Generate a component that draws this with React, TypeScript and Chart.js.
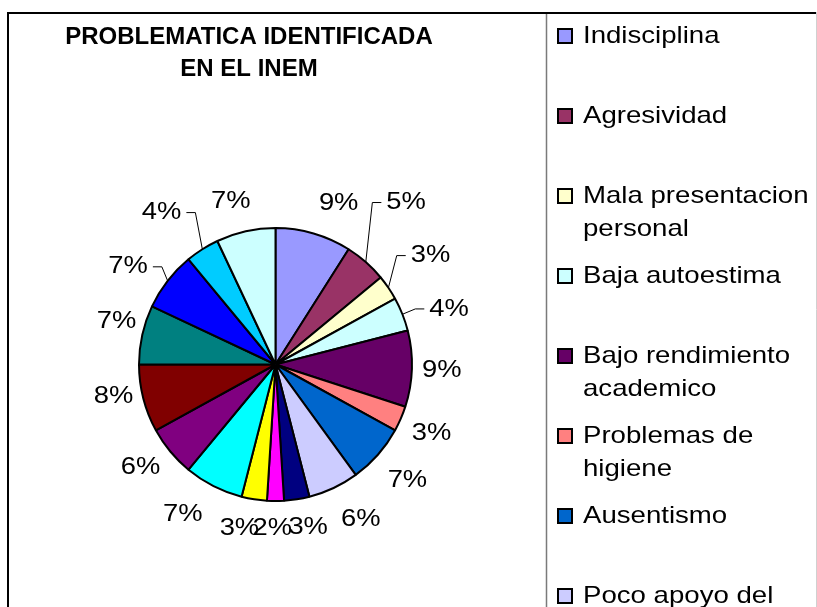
import React, { useEffect, useRef } from "react";
import { Chart, registerables } from "chart.js";

Chart.register(...registerables);

// ---- data ----
const categories = [
  "Indisciplina",
  "Agresividad",
  "Mala presentacion personal",
  "Baja autoestima",
  "Bajo rendimiento academico",
  "Problemas de higiene",
  "Ausentismo",
  "Poco apoyo del hogar",
  "Consumo de drogas",
  "Embarazo precoz",
  "Alcoholismo",
  "Desercion escolar",
  "Irrespeto",
  "Violencia intrafamiliar",
  "Bajos recursos economicos",
  "Falta de motivacion",
  "Problemas familiares",
  "Otros",
];

const percentages = [9, 5, 3, 4, 9, 3, 7, 6, 3, 2, 3, 7, 6, 8, 7, 7, 4, 7];

const sliceColors = [
  "#9999FF",
  "#993366",
  "#FFFFCC",
  "#CCFFFF",
  "#660066",
  "#FF8080",
  "#0066CC",
  "#CCCCFF",
  "#000080",
  "#FF00FF",
  "#FFFF00",
  "#00FFFF",
  "#800080",
  "#800000",
  "#008080",
  "#0000FF",
  "#00CCFF",
  "#CCFFFF",
];

const titleLines = ["PROBLEMATICA IDENTIFICADA", "EN EL INEM"];

// label layout tweaks relative to each slice's mid-angle: [angle shift (deg), extra radial distance (px)]
const labelNudge: [number, number][] = [
  [3, 6], [-4, 36], [0, 17], [5, 14], [0, 0], [-1, 1], [0, 3], [-1, 7], [-1, 2],
  [1, 0], [2, 3], [2, 5], [3, -3], [4, -2], [1.5, -3], [-5.5, 4.5], [-2.5, 18], [-1, 4],
];
const labelLeader = [
  false, true, true, true, false, false, false, false, false,
  false, false, false, false, false, false, true, true, false,
];

// ---- styling ----
const FONT = '"Liberation Sans", Arial, Helvetica, sans-serif';
const W = 817;
const H = 607;
const LABEL_SX = 1.14;
const LEGEND_SX = 1.15;

function drawStretched(
  ctx: CanvasRenderingContext2D,
  text: string,
  x: number,
  y: number,
  sx: number,
  align: CanvasTextAlign
) {
  ctx.save();
  ctx.translate(x, y);
  ctx.scale(sx, 1);
  ctx.textAlign = align;
  ctx.textBaseline = "middle";
  ctx.fillText(text, 0, 0);
  ctx.restore();
}

const framePlugin = {
  id: "frame",
  beforeDraw(chart: any) {
    const ctx: CanvasRenderingContext2D = chart.ctx;
    ctx.save();
    ctx.fillStyle = "#ffffff";
    ctx.fillRect(0, 0, chart.width, chart.height);
    ctx.restore();
  },
  afterDraw(chart: any) {
    const ctx: CanvasRenderingContext2D = chart.ctx;
    ctx.save();
    // light right edge
    ctx.strokeStyle = "#d0d0d0";
    ctx.lineWidth = 1;
    ctx.beginPath();
    ctx.moveTo(816.5, 12);
    ctx.lineTo(816.5, H);
    ctx.stroke();
    // legend divider
    ctx.strokeStyle = "#7a7a7a";
    ctx.lineWidth = 1.5;
    ctx.beginPath();
    ctx.moveTo(546.5, 13);
    ctx.lineTo(546.5, H);
    ctx.stroke();
    // outer frame (top + left)
    ctx.strokeStyle = "#000000";
    ctx.lineWidth = 2;
    ctx.beginPath();
    ctx.moveTo(8, H);
    ctx.lineTo(8, 13);
    ctx.lineTo(816, 13);
    ctx.stroke();
    ctx.restore();
  },
};

const titlePlugin = {
  id: "customTitle",
  afterDraw(chart: any) {
    const ctx: CanvasRenderingContext2D = chart.ctx;
    ctx.save();
    ctx.fillStyle = "#000000";
    ctx.font = `bold 24px ${FONT}`;
    ctx.textAlign = "center";
    ctx.textBaseline = "middle";
    titleLines.forEach((line, i) => {
      ctx.fillText(line, 249, 37 + i * 32);
    });
    ctx.restore();
  },
};

const legendPlugin = {
  id: "customLegend",
  afterDraw(chart: any) {
    const ctx: CanvasRenderingContext2D = chart.ctx;
    const labels: string[] = chart.data.labels;
    const colors: string[] = chart.data.datasets[0].backgroundColor;
    ctx.save();
    ctx.font = `24px ${FONT}`;
    const maxW = 234;
    labels.forEach((label, i) => {
      const y0 = 36 + i * 80;
      // wrap
      const words = label.split(" ");
      const lines: string[] = [];
      let cur = "";
      words.forEach((w) => {
        const test = cur ? cur + " " + w : w;
        if (ctx.measureText(test).width * LEGEND_SX > maxW && cur) {
          lines.push(cur);
          cur = w;
        } else {
          cur = test;
        }
      });
      if (cur) lines.push(cur);
      // swatch
      ctx.fillStyle = colors[i];
      ctx.fillRect(558, y0 - 7, 14, 14);
      ctx.strokeStyle = "#000000";
      ctx.lineWidth = 2;
      ctx.strokeRect(558, y0 - 7, 14, 14);
      ctx.fillStyle = "#000000";
      lines.forEach((ln, j) => {
        drawStretched(ctx, ln, 583, y0 + j * 33, LEGEND_SX, "left");
      });
    });
    ctx.restore();
  },
};

const labelPlugin = {
  id: "pctLabels",
  afterDatasetsDraw(chart: any) {
    const ctx: CanvasRenderingContext2D = chart.ctx;
    const meta = chart.getDatasetMeta(0);
    const values: number[] = chart.data.datasets[0].data;
    const total = values.reduce((a, b) => a + b, 0);
    const clamp = (v: number) => Math.max(-1, Math.min(1, v * 2));
    ctx.save();
    ctx.font = `24px ${FONT}`;
    ctx.fillStyle = "#000000";
    ctx.strokeStyle = "#000000";
    ctx.lineWidth = 1;
    meta.data.forEach((arc: any, i: number) => {
      const p = arc.getProps(["x", "y", "startAngle", "endAngle", "outerRadius"], true);
      const mid = (p.startAngle + p.endAngle) / 2;
      const [shiftDeg, extra] = labelNudge[i] || [0, 0];
      const a = mid + (shiftDeg * Math.PI) / 180;
      const ux = Math.cos(a);
      const uy = Math.sin(a);
      const R = p.outerRadius + 1;
      const text = Math.round((values[i] / total) * 100) + "%";
      const hw = (ctx.measureText(text).width * LABEL_SX) / 2;
      const hh = 17;
      const d = R + 9 + extra;
      const cx = p.x + d * ux + hw * clamp(ux);
      const cy = p.y + d * uy + hh * clamp(uy);
      drawStretched(ctx, text, cx, cy, LABEL_SX, "center");
      if (labelLeader[i]) {
        const side = cx >= p.x ? 1 : -1;
        const edge = cx - side * hw;
        const x0 = edge - side * 5;
        const x1 = edge - side * 14;
        const ax = p.x + (R - 1) * Math.cos(mid);
        const ay = p.y + (R - 1) * Math.sin(mid);
        ctx.beginPath();
        ctx.moveTo(x0, cy);
        ctx.lineTo(x1, cy);
        ctx.lineTo(ax, ay);
        ctx.stroke();
      }
    });
    ctx.restore();
  },
};

export default function App() {
  const canvasRef = useRef<HTMLCanvasElement | null>(null);

  useEffect(() => {
    if (!canvasRef.current) return;
    const chart = new Chart(canvasRef.current, {
      type: "pie",
      data: {
        labels: categories,
        datasets: [
          {
            data: percentages,
            backgroundColor: sliceColors,
            borderColor: "#000000",
            borderWidth: 2,
          },
        ],
      },
      options: {
        responsive: false,
        animation: false,
        devicePixelRatio: 1,
        layout: {
          padding: { left: 138, right: 404, top: 227, bottom: 105 },
        },
        plugins: {
          legend: { display: false },
          title: { display: false },
          tooltip: { enabled: false },
        },
      },
      plugins: [framePlugin, titlePlugin, legendPlugin, labelPlugin],
    });
    return () => chart.destroy();
  }, []);

  return (
    <div style={{ position: "absolute", left: 0, top: 0, width: W, height: H, background: "#fff" }}>
      <canvas ref={canvasRef} width={W} height={H} style={{ display: "block" }} />
    </div>
  );
}
